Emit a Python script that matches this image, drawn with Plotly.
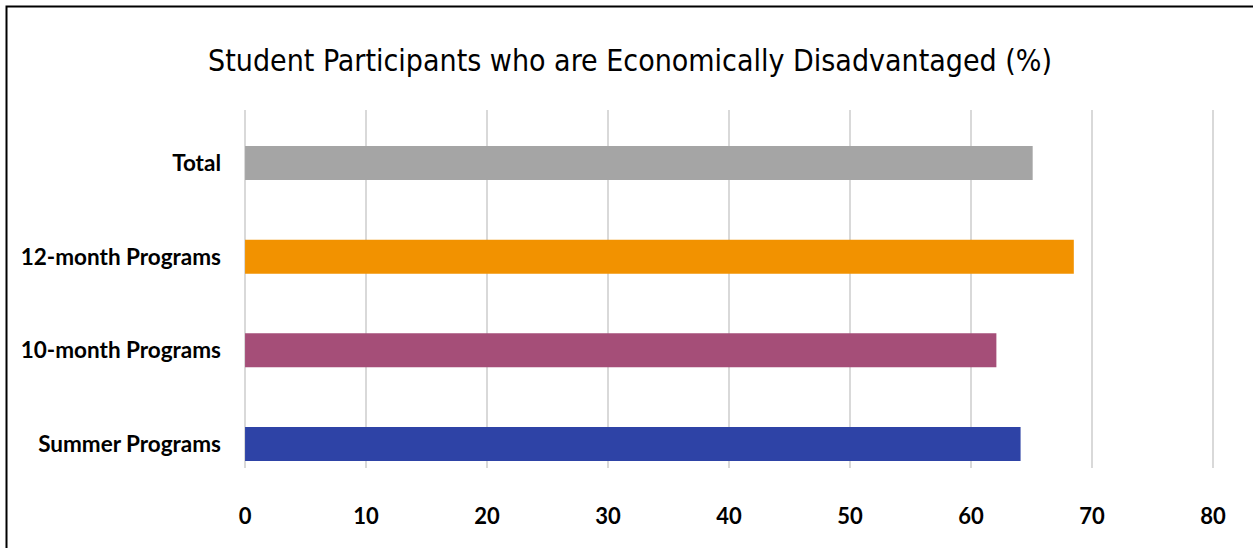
import plotly.graph_objects as go

categories = ["Total", "12-month Programs", "10-month Programs", "Summer Programs"]
values = [65.1, 68.5, 62.1, 64.1]
colors = ["#A5A5A5", "#F29200", "#A54E78", "#2E43A6"]
x_ticks = [0, 10, 20, 30, 40, 50, 60, 70, 80]

fig = go.Figure()
fig.add_trace(go.Bar(
    y=categories, x=values, orientation="h",
    marker=dict(color=colors, line=dict(width=0)),
    width=0.363, hoverinfo="x+y",
))

L, R = 239, 34
fig.update_layout(
    width=1253, height=548,
    margin=dict(l=L, r=R, t=110, b=80),
    paper_bgcolor="white", plot_bgcolor="white",
    showlegend=False,
    title=dict(
        text="Student Participants who are Economically Disadvantaged (%)",
        x=630 / 1253, xanchor="center", xref="container",
        y=1 - 60 / 548, yanchor="middle",
        font=dict(family="DejaVu Sans Condensed, Liberation Sans Narrow, sans-serif",
                  size=30, color="#000000"),
    ),
    font=dict(family="Lato, Open Sans, sans-serif", color="#000000"),
)

fig.update_xaxes(
    range=[-0.5, 80.5], tickvals=x_ticks,
    showgrid=True, gridcolor="#D9D9D9", gridwidth=2,
    zeroline=False, showline=False,
    tickfont=dict(family="Lato, sans-serif", size=22, color="#000000", weight="bold"),
    ticklabelstandoff=33,
)
fig.update_yaxes(
    type="category", categoryorder="array", categoryarray=categories,
    range=[3.256, -0.566],
    showgrid=False, zeroline=False, showline=False,
    tickfont=dict(family="Lato, sans-serif", size=22.5, color="#000000", weight="bold"),
    ticklabelstandoff=17,
)

# outer chart border
pw = 1253 - L - R
fig.add_shape(type="rect", xref="paper", yref="paper",
              x0=(6.5 - L) / pw, x1=(1262 - L) / pw,
              y0=(468 - 560) / 358, y1=(468 - 6.5) / 358,
              line=dict(color="#000000", width=2), fillcolor="rgba(0,0,0,0)", layer="above")

fig.write_html("out.html")
